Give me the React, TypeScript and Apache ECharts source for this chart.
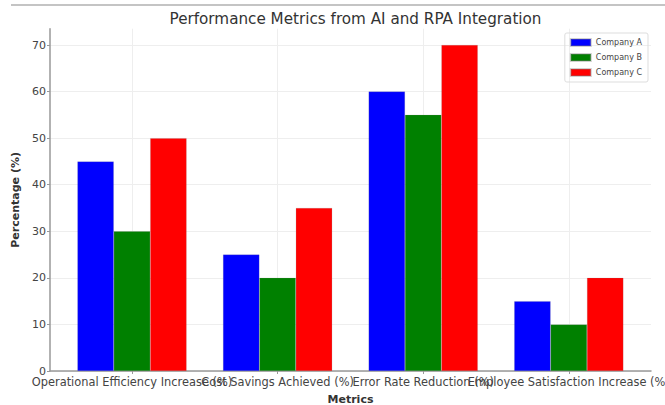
import React, { useEffect, useRef } from "react";
import * as echarts from "echarts";

const categories = [
  "Operational Efficiency Increase (%)",
  "Cost Savings Achieved (%)",
  "Error Rate Reduction (%)",
  "Employee Satisfaction Increase (%)",
];
const companyA = [45, 25, 60, 15];
const companyB = [30, 20, 55, 10];
const companyC = [50, 35, 70, 20];
const yTicks = [0, 10, 20, 30, 40, 50, 60, 70];
const xTicks = [0, 1, 2, 3];

export default function App() {
  const ref = useRef<HTMLDivElement>(null);
  useEffect(() => {
    const chart = echarts.init(ref.current!, null, { renderer: "svg" });
    const font = "DejaVu Sans";
    const top = 28.7;
    const height = 342.3;
    chart.setOption({
      animation: false,
      backgroundColor: "#ffffff",
      textStyle: { fontFamily: font },
      title: {
        text: "Performance Metrics from AI and RPA Integration",
        left: 350.5,
        textAlign: "center",
        top: 6,
        textStyle: { fontFamily: font, fontSize: 15.2, fontWeight: "normal", color: "#333" },
      },
      graphic: [
        {
          type: "line",
          shape: { x1: 11, y1: 5, x2: 665, y2: 5 },
          style: { stroke: "#c4c4c4", lineWidth: 2 },
        },
      ],
      legend: {
        orient: "vertical",
        right: 17,
        top: 33,
        icon: "rect",
        itemWidth: 20,
        itemHeight: 7,
        itemGap: 6,
        padding: [5, 6, 5, 5],
        borderColor: "#dddddd",
        borderWidth: 1,
        borderRadius: 2,
        textStyle: { fontFamily: font, fontSize: 8, color: "#444" },
        data: ["Company A", "Company B", "Company C"],
      },
      grid: [
        { left: 50, top, width: 601, height, outerBoundsMode: "none", containLabel: false },
        { left: 59.2, top, width: 582.4, height, outerBoundsMode: "none", containLabel: false },
      ],
      xAxis: [
        {
          type: "value",
          gridIndex: 0,
          min: -0.5625,
          max: 3.5625,
          name: "Metrics",
          nameLocation: "middle",
          nameGap: 23,
          nameTextStyle: { fontFamily: font, fontSize: 11, fontWeight: "bold", color: "#333" },
          axisLine: { show: true, onZero: false, lineStyle: { color: "#999", width: 1.5 } },
          axisTick: { show: true, length: 3, customValues: xTicks, lineStyle: { color: "#999" } },
          axisLabel: { show: false, customValues: xTicks },
          splitLine: { show: true, lineStyle: { color: "#eeeeee", width: 1 } },
        },
        {
          type: "category",
          gridIndex: 1,
          data: categories,
          axisLine: { show: false },
          axisTick: { show: false },
          splitLine: { show: false },
          axisLabel: {
            interval: 0,
            hideOverlap: false,
            fontFamily: font,
            fontSize: 11.4,
            color: "#444",
            margin: 5,
          },
        },
      ],
      yAxis: [
        {
          type: "value",
          gridIndex: 0,
          min: 0,
          max: 73.5,
          name: "Percentage (%)",
          nameLocation: "middle",
          nameGap: 26,
          nameTextStyle: { fontFamily: font, fontSize: 11, fontWeight: "bold", color: "#333" },
          axisLine: { show: true, onZero: false, lineStyle: { color: "#999", width: 1.5 } },
          axisTick: { show: true, length: 3, customValues: yTicks, lineStyle: { color: "#999" } },
          axisLabel: {
            customValues: yTicks,
            fontFamily: font,
            fontSize: 11,
            color: "#444",
            margin: 4,
            showMinLabel: true,
            showMaxLabel: true,
          },
          splitLine: { show: true, lineStyle: { color: "#eeeeee", width: 1 } },
        },
        { type: "value", gridIndex: 1, min: 0, max: 73.5, show: false },
      ],
      series: [
        { name: "Company A", data: companyA, color: "#0000ff" },
        { name: "Company B", data: companyB, color: "#008000" },
        { name: "Company C", data: companyC, color: "#ff0000" },
      ].map((s) => ({
        type: "bar",
        name: s.name,
        data: s.data,
        xAxisIndex: 1,
        yAxisIndex: 1,
        barWidth: 36.4,
        barGap: "0%",
        itemStyle: { color: s.color, borderColor: "rgba(120,120,120,0.35)", borderWidth: 0.5 },
      })),
    });
    return () => chart.dispose();
  }, []);
  return (
    <div
      ref={ref}
      style={{ position: "fixed", left: 0, top: 0, width: 665, height: 405, background: "#fff" }}
    />
  );
}
